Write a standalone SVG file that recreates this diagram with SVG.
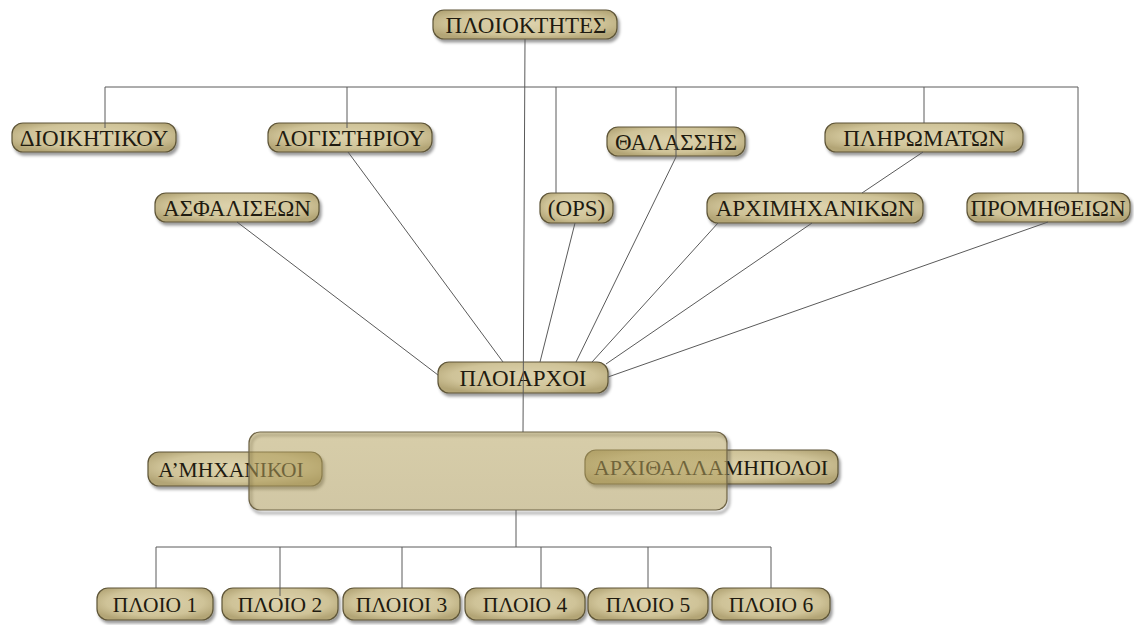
<svg xmlns="http://www.w3.org/2000/svg" width="1134" height="625" viewBox="0 0 1134 625">
<defs>
<radialGradient id="g" cx="50%" cy="45%" r="60%">
<stop offset="0" stop-color="#ddd3ae"/>
<stop offset="0.7" stop-color="#cfc398"/>
<stop offset="1" stop-color="#b3a576"/>
</radialGradient>
<linearGradient id="gb" x1="0" y1="0" x2="0" y2="1">
<stop offset="0" stop-color="#b6a462"/>
<stop offset="1" stop-color="#ab995a"/>
</linearGradient>
<filter id="sh" x="-10%" y="-30%" width="125%" height="170%">
<feDropShadow dx="2" dy="3" stdDeviation="1.6" flood-color="#000" flood-opacity="0.4"/>
</filter>
<filter id="bl" x="-10%" y="-20%" width="120%" height="140%">
<feGaussianBlur stdDeviation="1.5"/>
</filter>
</defs>
<style>
.n rect{fill:url(#g);stroke:#5e5538;stroke-width:1.2;filter:url(#sh)}
.n text{font-family:"Liberation Serif","Times New Roman",serif;font-size:23px;fill:#1f1b10;text-anchor:middle}
.b text{font-size:21.5px}
.c path{fill:none;stroke:#5a5a5a;stroke-width:1}
</style>
<rect width="1134" height="625" fill="#fff"/>

<g id="n-ploioktites" class="n"><rect x="433" y="10" width="184" height="29" rx="11"/><text x="526" y="33">ΠΛΟΙΟΚΤΗΤΕΣ</text></g>
<g id="n-dioikitikou" class="n"><rect x="12" y="123" width="164" height="29" rx="11"/><text x="94" y="146">ΔΙΟΙΚΗΤΙΚΟΥ</text></g>
<g id="n-logistiriou" class="n"><rect x="268" y="123" width="164" height="29" rx="11"/><text x="350" y="146">ΛΟΓΙΣΤΗΡΙΟΥ</text></g>
<g id="n-thalassis" class="n"><rect x="607" y="127" width="138" height="29" rx="11"/><text x="676" y="150">ΘΑΛΑΣΣΗΣ</text></g>
<g id="n-pliromaton" class="n"><rect x="825" y="123" width="198" height="29" rx="11"/><text x="924" y="146">ΠΛΗΡΩΜΑΤΩΝ</text></g>
<g id="n-asfaliseon" class="n"><rect x="155" y="193" width="164" height="29" rx="11"/><text x="237" y="216">ΑΣΦΑΛΙΣΕΩΝ</text></g>
<g id="n-ops" class="n"><rect x="540" y="193" width="73" height="30" rx="11"/><text x="576.5" y="216">(OPS)</text></g>
<g id="n-arximixanikon" class="n"><rect x="707" y="193" width="216" height="30" rx="11"/><text x="815" y="216">ΑΡΧΙΜΗΧΑΝΙΚΩΝ</text></g>
<g id="n-promitheion" class="n"><rect x="967" y="193" width="163" height="29" rx="11"/><text x="1048" y="216">ΠΡΟΜΗΘΕΙΩΝ</text></g>
<g id="n-ploiarxoi" class="n"><rect x="438" y="362" width="170" height="31" rx="11"/><text x="523" y="386">ΠΛΟΙΑΡΧΟΙ</text></g>
<g id="n-amixanikoi" class="n b"><rect x="148" y="452" width="174" height="34" rx="11"/><text x="231" y="477">Α’ΜΗΧΑΝΙΚΟΙ</text></g>
<g id="n-arxithalamipoloi" class="n"><rect x="585" y="450" width="253" height="34" rx="11"/><text x="711" y="475" style="font-size:22px">ΑΡΧΙΘΑΛΛΑΜΗΠΟΛΟΙ</text></g>
<g id="n-group">
<rect x="251" y="435" width="478" height="78" rx="11" fill="none" stroke="#000" stroke-opacity="0.35" stroke-width="2.5" filter="url(#bl)"/>
<rect x="249" y="432" width="478" height="78" rx="11" fill="url(#gb)" fill-opacity="0.55" stroke="#6f6446" stroke-width="1.2"/>
</g>
<g id="n-ploio1" class="n b"><rect x="97" y="588" width="116" height="32" rx="11"/><text x="155" y="612">ΠΛΟΙΟ 1</text></g>
<g id="n-ploio2" class="n b"><rect x="222" y="588" width="116" height="32" rx="11"/><text x="280" y="612">ΠΛΟΙΟ 2</text></g>
<g id="n-ploio3" class="n b"><rect x="343" y="588" width="117" height="32" rx="11"/><text x="401.5" y="612">ΠΛΟΙΟΙ 3</text></g>
<g id="n-ploio4" class="n b"><rect x="465" y="588" width="120" height="32" rx="11"/><text x="525" y="612">ΠΛΟΙΟ 4</text></g>
<g id="n-ploio5" class="n b"><rect x="588" y="588" width="120" height="32" rx="11"/><text x="648" y="612">ΠΛΟΙΟ 5</text></g>
<g id="n-ploio6" class="n b"><rect x="712" y="588" width="118" height="32" rx="11"/><text x="771" y="612">ΠΛΟΙΟ 6</text></g>

<g id="connectors" class="c">
<path d="M525,39 L523,432"/>
<path d="M105,87 H1078"/>
<path d="M105,87 V128"/>
<path d="M347,87 V128"/>
<path d="M556,87 V193"/>
<path d="M676,87 V157"/>
<path d="M924,87 V123"/>
<path d="M1078,87 V193"/>
<path d="M237,222 L438,375"/>
<path d="M348,152 L503,362"/>
<path d="M575,223 L540,362"/>
<path d="M676,157 L576,362"/>
<path d="M718,223 L592,362"/>
<path d="M923,152 L862,193 M812,223 L606,364"/>
<path d="M1048,222 L608,377"/>
<path d="M516,510 V547"/>
<path d="M156,547 H771"/>
<path d="M156,547 V588 M280,547 V596 M402,547 V588 M541,547 V588 M648,547 V588 M771,547 V588"/>
</g>
</svg>
